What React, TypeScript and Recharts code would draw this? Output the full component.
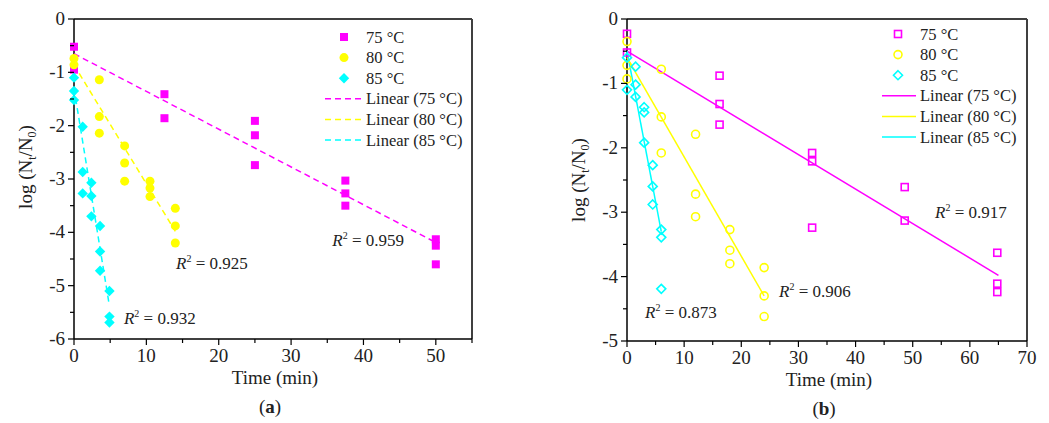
import React from 'react';
import { ScatterChart, Scatter, XAxis, YAxis, ReferenceLine, ReferenceDot, Legend } from 'recharts';

const FONT = '"Liberation Serif", "Times New Roman", serif';
const MAG = '#ff00ff';
const YEL = '#ffff00';
const CYA = '#00ffff';

// panel (a): filled markers, dashed fits
const a75 = [
  { x: 0, y: -0.52 }, { x: 0, y: -0.95 },
  { x: 12.5, y: -1.41 }, { x: 12.5, y: -1.86 },
  { x: 25, y: -1.91 }, { x: 25, y: -2.18 }, { x: 25, y: -2.74 },
  { x: 37.5, y: -3.03 }, { x: 37.5, y: -3.27 }, { x: 37.5, y: -3.5 },
  { x: 50, y: -4.13 }, { x: 50, y: -4.25 }, { x: 50, y: -4.6 },
];
const a80 = [
  { x: 0, y: -0.74 }, { x: 0, y: -0.86 },
  { x: 3.5, y: -1.14 }, { x: 3.5, y: -1.83 }, { x: 3.5, y: -2.14 },
  { x: 7, y: -2.38 }, { x: 7, y: -2.7 }, { x: 7, y: -3.04 },
  { x: 10.5, y: -3.04 }, { x: 10.5, y: -3.17 }, { x: 10.5, y: -3.33 },
  { x: 14, y: -3.55 }, { x: 14, y: -3.88 }, { x: 14, y: -4.2 },
];
const a85 = [
  { x: 0, y: -1.1 }, { x: 0, y: -1.35 }, { x: 0, y: -1.52 },
  { x: 1.2, y: -2.02 }, { x: 1.2, y: -2.87 }, { x: 1.2, y: -3.27 },
  { x: 2.4, y: -3.07 }, { x: 2.4, y: -3.32 }, { x: 2.4, y: -3.7 },
  { x: 3.6, y: -3.88 }, { x: 3.6, y: -4.36 }, { x: 3.6, y: -4.72 },
  { x: 4.9, y: -5.1 }, { x: 4.9, y: -5.58 }, { x: 4.9, y: -5.69 },
];
const fitA75 = [{ x: 0, y: -0.65 }, { x: 50, y: -4.19 }];
const fitA80 = [{ x: 0, y: -0.86 }, { x: 14, y: -3.98 }];
const fitA85 = [{ x: 0, y: -1.3 }, { x: 4.8, y: -5.3 }];
const r2A = ['0.959', '0.925', '0.932'];

// panel (b): open markers, solid fits
const b75 = [
  { x: 0, y: -0.23 }, { x: 0, y: -0.52 },
  { x: 16.2, y: -0.88 }, { x: 16.2, y: -1.32 }, { x: 16.2, y: -1.64 },
  { x: 32.4, y: -2.08 }, { x: 32.4, y: -2.21 }, { x: 32.4, y: -3.24 },
  { x: 48.6, y: -2.61 }, { x: 48.6, y: -3.13 },
  { x: 64.8, y: -3.63 }, { x: 64.8, y: -4.11 }, { x: 64.8, y: -4.24 },
];
const b80 = [
  { x: 0, y: -0.35 }, { x: 0, y: -0.72 }, { x: 0, y: -0.93 },
  { x: 6, y: -0.78 }, { x: 6, y: -1.52 }, { x: 6, y: -2.08 },
  { x: 12, y: -1.79 }, { x: 12, y: -2.72 }, { x: 12, y: -3.07 },
  { x: 18, y: -3.27 }, { x: 18, y: -3.59 }, { x: 18, y: -3.8 },
  { x: 24, y: -3.86 }, { x: 24, y: -4.3 }, { x: 24, y: -4.62 },
];
const b85 = [
  { x: 0, y: -0.6 }, { x: 0, y: -1.1 },
  { x: 1.5, y: -0.74 }, { x: 1.5, y: -1.02 }, { x: 1.5, y: -1.21 },
  { x: 3, y: -1.37 }, { x: 3, y: -1.45 }, { x: 3, y: -1.92 },
  { x: 4.5, y: -2.27 }, { x: 4.5, y: -2.6 }, { x: 4.5, y: -2.88 },
  { x: 6, y: -3.27 }, { x: 6, y: -3.39 }, { x: 6, y: -4.19 },
];
const fitB75 = [{ x: 0, y: -0.5 }, { x: 65, y: -3.98 }];
const fitB80 = [{ x: 0, y: -0.6 }, { x: 24, y: -4.3 }];
const fitB85 = [{ x: 0, y: -0.5 }, { x: 6, y: -3.3 }];
const r2B = ['0.917', '0.906', '0.873'];

const seriesNames = ['75 °C', '80 °C', '85 °C'];
const fitNames = ['Linear (75 °C)', 'Linear (80 °C)', 'Linear (85 °C)'];

const xTicksA = [0, 5, 10, 15, 20, 25, 30, 35, 40, 45, 50, 55];
const yTicksA = [-6, -5.5, -5, -4.5, -4, -3.5, -3, -2.5, -2, -1.5, -1, -0.5, 0];
const xTicksB = [0, 5, 10, 15, 20, 25, 30, 35, 40, 45, 50, 55, 60, 65, 70];
const yTicksB = [-5, -4.5, -4, -3.5, -3, -2.5, -2, -1.5, -1, -0.5, 0];

// marker shapes
const Square = ({ cx, cy, color, open }: any) =>
  open ? <rect x={cx - 3.5} y={cy - 3.5} width={7} height={7} fill="none" stroke={color} strokeWidth={1.6} />
       : <rect x={cx - 4} y={cy - 4} width={8} height={8} fill={color} />;
const Circle = ({ cx, cy, color, open }: any) =>
  open ? <circle cx={cx} cy={cy} r={4} fill="none" stroke={color} strokeWidth={1.6} />
       : <circle cx={cx} cy={cy} r={4.5} fill={color} />;
const Diamond = ({ cx, cy, color, open }: any) => {
  const s = open ? 4.5 : 5.2;
  const d = `M${cx},${cy - s}L${cx + s},${cy}L${cx},${cy + s}L${cx - s},${cy}Z`;
  return open ? <path d={d} fill="none" stroke={color} strokeWidth={1.6} /> : <path d={d} fill={color} />;
};
const markers = [Square, Circle, Diamond];
const colors = [MAG, YEL, CYA];

const XTick = (props: any) => {
  const { x, y, payload } = props;
  const v = payload.value;
  const major = v % 10 === 0;
  return (
    <g>
      <line x1={x} x2={x} y1={y} y2={y + (major ? 6 : 4)} stroke="#000" strokeWidth={1.2} />
      {major && (
        <text x={x} y={y + 23} textAnchor="middle" fontSize={19} fontFamily={FONT} fill="#222">{v}</text>
      )}
    </g>
  );
};

const YTick = (props: any) => {
  const { x, y, payload } = props;
  const v = payload.value;
  const major = Number.isInteger(v);
  return (
    <g>
      <line x1={x} x2={x - (major ? 6 : 4)} y1={y} y2={y} stroke="#000" strokeWidth={1.2} />
      {major && (
        <text x={x - 9} y={y + 6} textAnchor="end" fontSize={19} fontFamily={FONT} fill="#222">{v}</text>
      )}
    </g>
  );
};

const YTitle = ({ viewBox, shift }: any) => {
  const cx = viewBox.x + 12;
  const cy = viewBox.y + viewBox.height / 2 + shift;
  return (
    <text x={cx} y={cy} transform={`rotate(-90 ${cx} ${cy})`} textAnchor="middle" dy={6}
      fontSize={19} fontFamily={FONT} fill="#222">
      log (N<tspan fontSize={12} dy={4}>t</tspan><tspan dy={-4}>/N</tspan>
      <tspan fontSize={12} dy={4}>0</tspan><tspan dy={-4}>)</tspan>
    </text>
  );
};

const XTitle = ({ viewBox, tag }: any) => {
  const cx = viewBox.x + viewBox.width / 2;
  return (
    <g fontFamily={FONT} fill="#222" fontSize={19}>
      <text x={cx + 2} y={viewBox.y + 45} textAnchor="middle">Time (min)</text>
      <text x={cx - 3} y={viewBox.y + 74} textAnchor="middle">(<tspan fontWeight="bold">{tag}</tspan>)</text>
    </g>
  );
};

const R2Text = (value: string) => (props: any) => (
  <text x={props.cx} y={props.cy} fontSize={17} fontFamily={FONT} fill="#222">
    <tspan fontStyle="italic">R</tspan>
    <tspan fontSize={10} dy={-7}>2</tspan>
    <tspan dy={7}> = {value}</tspan>
  </text>
);

const LegendBox = ({ open }: any) => (
  <svg width={150} height={130} style={{ overflow: 'visible' }}>
    {seriesNames.map((n, i) => {
      const M = markers[i];
      const y = 10 + i * 20.6;
      return (
        <g key={n}>
          <M cx={open ? 16 : 19} cy={y} color={colors[i]} open={open} />
          <text x={open ? 38 : 41} y={y + 5.5} fontSize={16.5} fontFamily={FONT} fill="#222">{n}</text>
        </g>
      );
    })}
    {fitNames.map((n, i) => {
      const y = 10 + (i + 3) * 20.6;
      return (
        <g key={n}>
          <line x1={0} x2={open ? 34 : 36} y1={y} y2={y} stroke={colors[i]} strokeWidth={1.5}
            strokeDasharray={open ? undefined : '6 4'} />
          <text x={open ? 38 : 41} y={y + 5.5} fontSize={16.5} fontFamily={FONT} fill="#222">{n}</text>
        </g>
      );
    })}
  </svg>
);

const noDot = () => <g />;

export default function App() {
  return (
    <div style={{ position: 'absolute', left: 0, top: 0, width: 1049, height: 423, background: '#fff' }}>
      <div style={{ position: 'absolute', left: 0, top: 0 }}>
        <ScatterChart width={520} height={423} margin={{ top: 19, right: 48, left: 14, bottom: 44 }}>
          <XAxis type="number" dataKey="x" domain={[0, 55]} ticks={xTicksA} interval={0} tick={<XTick />}
            tickLine={false} tickSize={0} tickMargin={0} height={40}
            axisLine={{ stroke: '#000', strokeWidth: 1.5 }} label={<XTitle tag="a" />} />
          <YAxis type="number" dataKey="y" domain={[-6, 0]} ticks={yTicksA} interval={0} tick={<YTick />}
            tickLine={false} tickSize={0} tickMargin={0} width={60}
            axisLine={{ stroke: '#000', strokeWidth: 1.5 }} label={<YTitle shift={-12} />} />
          <ReferenceLine y={0} stroke="#404040" strokeWidth={2} />
          <ReferenceLine x={55} stroke="#404040" strokeWidth={2} />
          <Scatter data={fitA75} shape={noDot} line={{ stroke: MAG, strokeWidth: 1.5, strokeDasharray: '6 4' }} isAnimationActive={false} />
          <Scatter data={fitA80} shape={noDot} line={{ stroke: YEL, strokeWidth: 1.5, strokeDasharray: '6 4' }} isAnimationActive={false} />
          <Scatter data={fitA85} shape={noDot} line={{ stroke: CYA, strokeWidth: 1.5, strokeDasharray: '6 4' }} isAnimationActive={false} />
          <Scatter data={a75} shape={(p: any) => <Square cx={p.cx} cy={p.cy} color={MAG} />} isAnimationActive={false} />
          <Scatter data={a80} shape={(p: any) => <Circle cx={p.cx} cy={p.cy} color={YEL} />} isAnimationActive={false} />
          <Scatter data={a85} shape={(p: any) => <Diamond cx={p.cx} cy={p.cy} color={CYA} />} isAnimationActive={false} />
          <ReferenceDot x={35.7} y={-4.26} shape={R2Text(r2A[0])} />
          <ReferenceDot x={14.1} y={-4.69} shape={R2Text(r2A[1])} />
          <ReferenceDot x={6.9} y={-5.72} shape={R2Text(r2A[2])} />
          <Legend layout="vertical" align="center" verticalAlign="middle" content={<LegendBox open={false} />}
            wrapperStyle={{ left: 325, top: 27, width: 150, height: 130 }} />
        </ScatterChart>
      </div>
      <div style={{ position: 'absolute', left: 540, top: 0 }}>
        <ScatterChart width={509} height={423} margin={{ top: 19, right: 22, left: 27, bottom: 42 }}>
          <XAxis type="number" dataKey="x" domain={[0, 70]} ticks={xTicksB} interval={0} tick={<XTick />}
            tickLine={false} tickSize={0} tickMargin={0} height={40}
            axisLine={{ stroke: '#000', strokeWidth: 1.5 }} label={<XTitle tag="b" />} />
          <YAxis type="number" dataKey="y" domain={[-5, 0]} ticks={yTicksB} interval={0} tick={<YTick />}
            tickLine={false} tickSize={0} tickMargin={0} width={60}
            axisLine={{ stroke: '#000', strokeWidth: 1.5 }} label={<YTitle shift={0} />} />
          <ReferenceLine y={0} stroke="#404040" strokeWidth={2} />
          <ReferenceLine x={70} stroke="#404040" strokeWidth={2} />
          <Scatter data={fitB75} shape={noDot} line={{ stroke: MAG, strokeWidth: 1.5 }} isAnimationActive={false} />
          <Scatter data={fitB80} shape={noDot} line={{ stroke: YEL, strokeWidth: 1.5 }} isAnimationActive={false} />
          <Scatter data={fitB85} shape={noDot} line={{ stroke: CYA, strokeWidth: 1.5 }} isAnimationActive={false} />
          <Scatter data={b75} shape={(p: any) => <Square cx={p.cx} cy={p.cy} color={MAG} open />} isAnimationActive={false} />
          <Scatter data={b80} shape={(p: any) => <Circle cx={p.cx} cy={p.cy} color={YEL} open />} isAnimationActive={false} />
          <Scatter data={b85} shape={(p: any) => <Diamond cx={p.cx} cy={p.cy} color={CYA} open />} isAnimationActive={false} />
          <ReferenceDot x={53.9} y={-3.09} shape={R2Text(r2B[0])} />
          <ReferenceDot x={26.6} y={-4.31} shape={R2Text(r2B[1])} />
          <ReferenceDot x={3.15} y={-4.65} shape={R2Text(r2B[2])} />
          <Legend layout="vertical" align="center" verticalAlign="middle" content={<LegendBox open />}
            wrapperStyle={{ left: 342, top: 24, width: 150, height: 130 }} />
        </ScatterChart>
      </div>
    </div>
  );
}
